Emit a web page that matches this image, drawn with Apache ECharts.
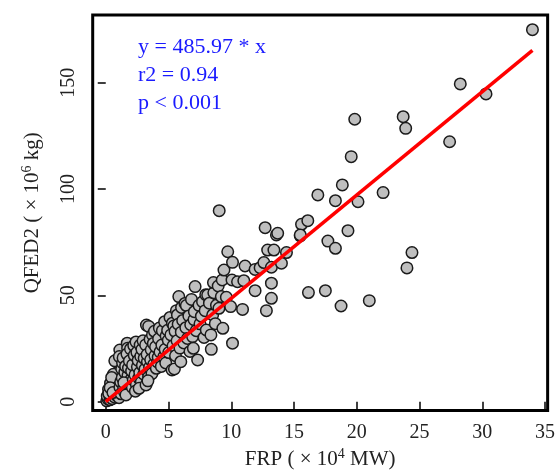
<!DOCTYPE html>
<html>
<head>
<meta charset="utf-8">
<script src="https://cdn.jsdelivr.net/npm/echarts@6/dist/echarts.min.js"></script>
<style>
  html, body { margin: 0; padding: 0; background: #fff; }
  #chart { width: 558px; height: 475px; }
</style>
</head>
<body>
<div id="chart"></div>
<script>
// FRP (x10^4 MW) vs QFED2 (x10^6 kg)
var points = [
  // near origin
  [0.08, 0.4], [0.17, 1.3], [0.12, 2.6], [0.33, 0.9], [0.28, 3.4], [0.41, 1.9], [0.47, 4.7], [0.53, 1.4],
  [0.56, 6.3], [0.62, 2.8], [0.64, 8.6], [0.73, 2.1], [0.69, 5.1], [0.78, 11.3], [0.84, 3.7], [0.81, 7.2],
  [0.88, 13.6], [0.93, 2.6], [0.92, 9.8], [0.97, 5.6], [1.02, 12.4], [1.06, 1.9], [0.22, 5.8], [0.38, 8.7],
  [0.61, 12.9], [0.72, 19.2], [0.47, 11.4], [0.24, 3.9], [0.35, 6.6], [0.57, 4.3],
  [1.12, 24.3], [1.08, 21.2], [1.13, 6.8], [1.22, 3.7], [1.19, 9.3], [1.27, 15.4], [1.34, 18.2], [1.31, 11.2],
  [1.43, 6.6], [1.38, 20.6], [1.52, 13.8], [1.49, 4.6], [1.63, 9.1], [1.58, 16.7], [1.71, 27.5], [1.74, 25.1],
  [1.69, 22.4], [1.77, 12.3], [1.84, 6.1], [1.81, 15.8], [1.93, 8.2], [1.88, 19.1], [2.03, 10.6], [1.97, 24.8],
  [2.06, 14.4], [1.44, 8.9], [1.61, 3.2],
  [2.12, 6.7], [2.14, 17.3], [2.23, 26.4], [2.19, 10.2], [2.33, 12.6], [2.27, 21.8], [2.41, 28.1], [2.44, 8.1],
  [2.52, 16.4], [2.48, 23.2], [2.63, 11.1], [2.58, 19.4], [2.71, 13.7], [2.74, 26.6], [2.83, 9.2], [2.79, 21.3],
  [2.92, 17.1], [2.88, 24.6], [3.03, 12.9], [2.97, 28.6], [3.06, 20.4], [2.36, 4.9], [2.66, 6.3],
  [3.13, 15.3], [3.21, 7.9], [3.18, 26.7], [3.24, 36.0], [3.32, 18.9], [3.29, 22.2], [3.42, 35.4], [3.41, 11.6],
  [3.53, 29.3], [3.49, 16.2], [3.62, 24.4], [3.58, 19.7], [3.72, 31.4], [3.68, 13.2], [3.83, 17.6], [3.79, 27.4],
  [3.92, 21.6], [3.88, 33.1], [4.03, 15.7], [3.97, 25.8], [3.36, 9.8],
  [4.12, 18.7], [4.18, 20.9], [4.21, 29.6], [4.32, 23.4], [4.27, 34.6], [4.43, 16.6], [4.51, 33.4], [4.47, 26.6],
  [4.62, 21.1], [4.69, 37.6], [4.73, 24.6], [4.81, 30.9], [4.78, 18.2], [4.93, 33.6], [5.02, 23.1], [4.98, 28.9],
  [5.12, 39.6], [5.19, 31.4], [5.31, 36.9], [5.42, 35.6], [5.28, 14.9], [5.47, 15.4], [5.36, 26.3], [5.52, 33.1],
  [5.56, 21.6], [5.63, 42.8], [5.71, 40.8], [5.68, 28.6], [5.82, 49.4], [5.77, 36.4], [5.91, 25.2], [6.02, 32.7],
  [5.98, 18.8], [6.04, 44.3],
  [6.13, 38.2], [6.22, 27.6], [6.31, 46.2], [6.42, 45.2], [6.38, 34.8], [6.51, 29.7], [6.62, 40.3], [6.71, 23.6],
  [6.83, 48.1], [6.77, 36.2], [6.92, 30.6], [7.03, 38.6], [6.98, 25.1], [7.06, 42.3],
  [7.12, 54.1], [7.21, 33.4], [7.32, 19.6], [7.43, 45.3], [7.51, 36.6], [7.62, 40.2], [7.71, 47.0], [7.83, 30.2],
  [7.92, 42.8], [8.01, 33.7], [7.97, 50.3],
  [8.12, 50.2], [8.26, 46.3], [8.38, 31.4], [8.41, 24.6], [8.52, 40.8], [8.61, 51.2], [8.58, 56.0], [8.73, 36.7],
  [8.82, 45.3], [9.02, 43.9], [8.96, 54.4], [9.04, 89.8],
  [9.21, 49.4], [9.33, 34.5], [9.28, 57.2], [9.42, 61.9], [9.61, 49.1], [9.72, 70.5], [9.95, 44.7], [10.1, 27.5],
  // middle
  [10.1, 65.5], [10.06, 57.2], [10.5, 56.4], [10.9, 43.4], [11.0, 56.9], [11.1, 63.8], [11.9, 62.2],
  [11.9, 52.2], [12.3, 63.0], [12.6, 65.4], [12.7, 81.8], [12.8, 42.8], [12.9, 71.3], [13.2, 63.2],
  [13.2, 55.7], [13.2, 48.6], [13.4, 71.3], [13.6, 78.4], [14.0, 65.1], [14.4, 70.1], [13.7, 79.2],
  [15.5, 77.9], [15.6, 83.4], [15.5, 78.4],
  // outliers
  [34.0, 174.9], [28.25, 149.4], [30.3, 144.7], [23.7, 134.0], [23.9, 128.5], [27.4, 122.2],
  [19.84, 132.8], [19.56, 115.2], [18.85, 101.9], [22.1, 98.3], [16.9, 97.2], [18.3, 94.5],
  [20.1, 94.0], [16.1, 85.1], [19.3, 80.4], [17.7, 75.5], [18.3, 72.1], [24.4, 70.1],
  [24.0, 62.9], [16.15, 51.3], [17.5, 52.2], [18.75, 45.0], [21.0, 47.5]
]

// fitted line y = 485.97 * x, end points
var fitX = [0, 34]
var fitY = [0, 165.2]

var xTicks = [0, 5, 10, 15, 20, 25, 30, 35]
var yTicks = [0, 50, 100, 150]

var annotation = ['y = 485.97 * x', 'r2 = 0.94', 'p < 0.001']

var serif = '"Liberation Serif", "Times New Roman", serif'

var chart = echarts.init(document.getElementById('chart'))

var fitData = []
for (var i = 0; i < fitX.length; i++) {
  fitData.push([fitX[i], fitY[i]])
}

var option = {
  animation: false,
  grid: {
    left: 92.7,
    right: 1.3,
    top: 15,
    bottom: 64.5,
    show: true,
    borderColor: '#000',
    borderWidth: 3,
    backgroundColor: '#fff'
  },
  xAxis: {
    type: 'value',
    min: -1.04,
    max: 35.21,
    splitLine: { show: false },
    axisLine: { show: false },
    axisTick: {
      show: true,
      customValues: xTicks,
      length: 8,
      lineStyle: { color: '#000', width: 1.5 }
    },
    axisLabel: {
      customValues: xTicks,
      margin: 12,
      color: '#222',
      fontFamily: serif,
      fontSize: 20
    },
    name: '{a|FRP ( \u00d7 10}{s|4}{a| MW)}',
    nameLocation: 'middle',
    nameGap: 37,
    nameTextStyle: {
      rich: {
        a: { fontFamily: serif, fontSize: 21, color: '#222', lineHeight: 24 },
        s: { fontFamily: serif, fontSize: 14, color: '#222', verticalAlign: 'top', lineHeight: 14 }
      }
    }
  },
  yAxis: {
    type: 'value',
    min: -4.14,
    max: 181.8,
    splitLine: { show: false },
    axisLine: { show: false },
    axisTick: {
      show: true,
      customValues: yTicks,
      length: 8,
      lineStyle: { color: '#000', width: 1.5 }
    },
    axisLabel: {
      customValues: yTicks,
      rotate: 90,
      margin: 14,
      color: '#222',
      fontFamily: serif,
      fontSize: 20
    },
    name: '{a|QFED2 ( \u00d7 10}{s|6}{a| kg)}',
    nameLocation: 'middle',
    nameRotate: 90,
    nameGap: 48,
    nameTextStyle: {
      rich: {
        a: { fontFamily: serif, fontSize: 21, color: '#222', lineHeight: 24 },
        s: { fontFamily: serif, fontSize: 14, color: '#222', verticalAlign: 'top', lineHeight: 14 }
      }
    }
  },
  graphic: [
    {
      type: 'text',
      left: 138,
      top: 33,
      style: {
        text: annotation.join('\n'),
        font: '22px ' + serif,
        fill: '#1a1aff',
        lineHeight: 28
      }
    }
  ],
  series: [
    {
      type: 'scatter',
      data: points,
      symbol: 'circle',
      symbolSize: 11.5,
      itemStyle: {
        color: '#bfbfbf',
        borderColor: '#1a1a1a',
        borderWidth: 1.5,
        opacity: 1
      },
      z: 2
    },
    {
      type: 'line',
      data: fitData,
      symbol: 'none',
      lineStyle: { color: '#ff0000', width: 3.5 },
      z: 3
    }
  ]
}

chart.setOption(option)
</script>
</body>
</html>
